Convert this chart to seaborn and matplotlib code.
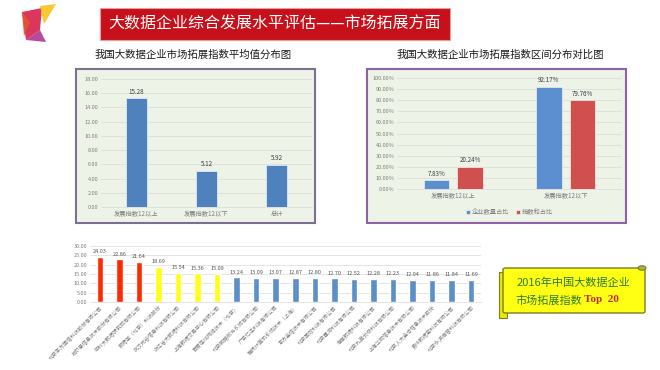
import numpy as np
import pandas as pd
import matplotlib as mpl
from matplotlib import pyplot as plt
from matplotlib.patches import Rectangle, Polygon, FancyBboxPatch, Circle
import seaborn as sns

# data
avg_cats = ['发展指数12以上', '发展指数12以下', '总计']
avg_vals = [15.28, 5.12, 5.92]

range_cats = ['发展指数12以上', '发展指数12以下']
range_series = ['企业数量占比', '指数和占比']
share_count = [0.0783, 0.9217]
share_score = [0.2024, 0.7976]

companies = ['北京东方国信科技股份有限公司', '拓尔思信息技术股份有限公司', '中科大数据研究院有限公司',
             '数据堂（北京）科技股份', '武汉光谷信息科技有限公司', '浙江省大数据科技有限公司',
             '上海数据交易中心有限公司', '百度在线网络技术（北京）', '北京明略软件系统有限公司',
             '广东亿迅科技有限公司', '腾讯计算机系统技术（上海）', '东方金信技术有限公司',
             '北京国双科技有限公司', '北京星河科技有限公司', '海南数据科技有限公司',
             '北京九章云极科技有限公司', '上海华院信息技术有限公司', '北京人大金仓信息技术股份',
             '贵州数据宝科技有限公司', '北京永洪商智科技有限公司']
top_vals = [24.03, 22.86, 21.64, 18.69, 15.54, 15.36, 15.09, 13.24, 13.09, 13.07,
            12.87, 12.80, 12.70, 12.52, 12.28, 12.23, 12.04, 11.86, 11.84, 11.69]
tiers = ['a'] * 3 + ['b'] * 4 + ['c'] * 13

sns.set_style("white")
plt.rcParams['font.family'] = ['Noto Sans CJK SC', 'DejaVu Sans']

fig = plt.figure(figsize=(6.6, 3.7), dpi=100)
fig.patch.set_facecolor('white')

def fx(px):
    return px / 660.0

def fy(py):
    return 1 - py / 370.0

def fig_patch(p):
    p.set_transform(fig.transFigure)
    p.set_zorder(-1)
    fig.patches.append(p)

# logo
logo = [([22, 12], [42, 8], [40, 30], [26, 40], '#d8204a'),
        ([40, 6], [56, 4], [44, 24], None, '#f6c21c'),
        ([26, 40], [40, 30], [46, 42], None, '#b2358f'),
        ([22, 12], [30, 22], [24, 36], None, '#e6552f')]
for p in logo:
    pts = [(fx(a), fy(b)) for a, b in [q for q in p[:4] if q is not None]]
    fig_patch(Polygon(pts, closed=True, facecolor=p[4], edgecolor='none', alpha=0.9))

# title banner
fig_patch(Rectangle((fx(100), fy(40)), fx(450) - fx(100), fy(8) - fy(40),
                    facecolor='#c8101a', edgecolor='#e0a0a0', lw=0.8))
fig.text((fx(100) + fx(450)) / 2, fy(24), '大数据企业综合发展水平评估——市场拓展方面',
         color='white', fontsize=11.5, ha='center', va='center')

fig.text(fx(193), fy(55), '我国大数据企业市场拓展指数平均值分布图', fontsize=7.5,
         ha='center', va='center', color='#1a1a1a')
fig.text(fx(500), fy(55), '我国大数据企业市场拓展指数区间分布对比图', fontsize=7.5,
         ha='center', va='center', color='#1a1a1a')

# chart frames
fig_patch(Rectangle((fx(76), fy(223)), fx(315) - fx(76), fy(69) - fy(223),
                    facecolor='#eef3e8', edgecolor='#7b6f94', lw=1.5))
fig_patch(Rectangle((fx(367), fy(223)), fx(626) - fx(367), fy(69) - fy(223),
                    facecolor='#eef3e8', edgecolor='#8e63a6', lw=1.5))

tick_col = '#7f7f7f'
grid_col = '#d9d9d9'

# left: average values
ax1 = fig.add_axes([fx(101), fy(207), fx(312) - fx(101), fy(79) - fy(207)])
df1 = pd.DataFrame({'cat': avg_cats, 'val': avg_vals})
sns.barplot(ax=ax1, data=df1, x='cat', y='val', color='#4f81bd', saturation=1,
            width=0.3, edgecolor='#dce9f5', linewidth=0.6)
ax1.set_ylim(0, 18)
ax1.set_yticks(np.arange(0, 19, 2))
ax1.yaxis.set_major_formatter(mpl.ticker.FormatStrFormatter('%.2f'))
ax1.bar_label(ax1.containers[0], fmt='%.2f', fontsize=4.5, color='#404040', padding=2)

# right: range comparison
ax2 = fig.add_axes([fx(397), fy(189), fx(622) - fx(397), fy(78) - fy(189)])
df2 = pd.DataFrame({'cat': range_cats * 2,
                    'series': [range_series[0]] * 2 + [range_series[1]] * 2,
                    'val': share_count + share_score})
sns.barplot(ax=ax2, data=df2, x='cat', y='val', hue='series', width=0.6, gap=0.25,
            palette=['#5b8fd0', '#d0504f'], saturation=1,
            edgecolor='#f0f0f0', linewidth=0.5)
ax2.set_ylim(0, 1.0)
ax2.set_yticks(np.arange(0, 1.01, 0.1))
ax2.yaxis.set_major_formatter(mpl.ticker.FuncFormatter(lambda v, p: '%.2f%%' % (v * 100)))
for c in ax2.containers:
    ax2.bar_label(c, labels=['%.2f%%' % (b.get_height() * 100) for b in c],
                  fontsize=4.5, color='#404040', padding=2)
ax2.legend(loc='upper center', bbox_to_anchor=(0.5, -0.12), ncol=2, frameon=False,
           fontsize=4.5, handlelength=0.6, handleheight=0.6, columnspacing=1.2,
           handletextpad=0.3, labelcolor=tick_col)

# bottom: top 20 companies
ax3 = fig.add_axes([fx(90), fy(302), fx(481) - fx(90), fy(246) - fy(302)])
df3 = pd.DataFrame({'company': companies, 'val': top_vals, 'tier': tiers})
sns.barplot(ax=ax3, data=df3, x='company', y='val', hue='tier', order=companies,
            palette={'a': '#ff2a00', 'b': '#ffff1a', 'c': '#5b8fc7'}, saturation=1,
            dodge=False, width=0.33, legend=False)
ax3.set_ylim(0, 30)
ax3.set_yticks(np.arange(0, 31, 5))
ax3.yaxis.set_major_formatter(mpl.ticker.FormatStrFormatter('%.2f'))
for c in ax3.containers:
    ax3.bar_label(c, fmt='%.2f', fontsize=4, color='#555555', padding=2)
ax3.set_xticks(range(len(companies)))
ax3.set_xticklabels(companies, rotation=45, ha='right', rotation_mode='anchor',
                    fontsize=3.8, color='#a0a0a0')

for ax in (ax1, ax2, ax3):
    ax.set_facecolor('none')
    ax.set_xlabel('')
    ax.set_ylabel('')
    ax.grid(axis='y', color=grid_col, lw=0.5)
    ax.set_axisbelow(True)
    for s in ax.spines.values():
        s.set_visible(False)
    ax.spines['bottom'].set_visible(True)
    ax.spines['bottom'].set_color(grid_col)
    ax.spines['bottom'].set_linewidth(0.5)
    ax.tick_params(axis='both', length=0, pad=2, colors=tick_col)
    ax.tick_params(axis='y', labelsize=4)
for ax in (ax1, ax2):
    ax.tick_params(axis='x', labelsize=4.5)

# scroll banner
fig_patch(Rectangle((fx(499), fy(318)), fx(507) - fx(499), fy(272) - fy(318),
                    facecolor='#e8e800', edgecolor='#7c7c2a', lw=0.8))
fig_patch(FancyBboxPatch((fx(503), fy(313)), fx(645) - fx(503), fy(268) - fy(313),
                         boxstyle='round,pad=0,rounding_size=0.004',
                         facecolor='#ffff14', edgecolor='#7c7c2a', lw=1.0))
fig_patch(Circle((fx(642), fy(268)), 0.006, facecolor='#b0b040',
                 edgecolor='#7c7c2a', lw=0.8))
fig.text(fx(573), fy(283), '2016年中国大数据企业', fontsize=8, color='#2f7d32',
         ha='center', va='center')
fig.text(fx(582), fy(300), '市场拓展指数', fontsize=8, color='#2f7d32',
         ha='right', va='center')
fig.text(fx(584), fy(300), 'Top  20', fontsize=8, color='#c0282a', ha='left',
         va='center', family=['Liberation Serif', 'DejaVu Serif'], weight='bold')

fig.savefig('out.png', dpi=100)
